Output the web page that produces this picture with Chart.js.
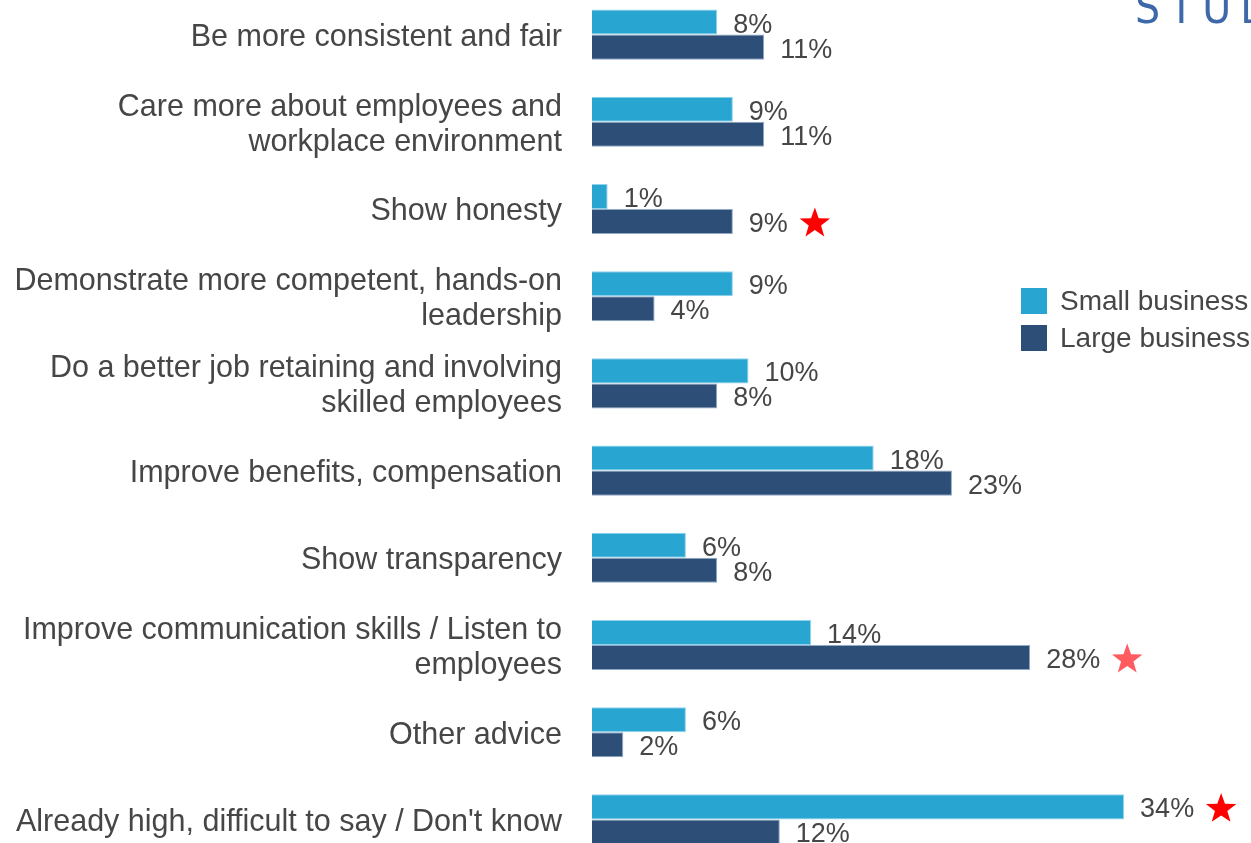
<!DOCTYPE html>
<html>
<head>
<meta charset="utf-8">
<script src="https://cdn.jsdelivr.net/npm/chart.js@4"></script>
<style>
  html, body { margin: 0; padding: 0; background: #ffffff; overflow: hidden; }
  body { width: 1251px; height: 843px; position: relative; }
  #wrap { position: absolute; left: 0; top: -9px; width: 1251px; height: 872px; }
</style>
</head>
<body>
<div id="wrap"><canvas id="chart"></canvas></div>
<script>
// Advice for leadership, share of respondents (%)
const categories = [
  ['Be more consistent and fair'],
  ['Care more about employees and', 'workplace environment'],
  ['Show honesty'],
  ['Demonstrate more competent, hands-on', 'leadership'],
  ['Do a better job retaining and involving', 'skilled employees'],
  ['Improve benefits, compensation'],
  ['Show transparency'],
  ['Improve communication skills / Listen to', 'employees'],
  ['Other advice'],
  ["Already high, difficult to say / Don't know"]
];
const seriesNames = ['Small business', 'Large business'];
const smallBusiness = [8, 9, 1, 9, 10, 18, 6, 14, 6, 34];
const largeBusiness = [11, 11, 9, 4, 8, 23, 8, 28, 2, 12];
// significance markers: 'strong' or 'weak' difference
const smallFlags = [null, null, null, null, null, null, null, null, null, 'strong'];
const largeFlags = [null, null, 'strong', null, null, null, null, 'weak', null, null];
const headerText = 'STUDY';

const FONT = "'Liberation Sans', Arial, sans-serif";
const TEXT = '#464646';
const COLORS = ['#29a5d2', '#2c4e77'];
const EDGES = ['#8fd3ec', '#8fa9c6'];
const STAR = { strong: '#ff0000', weak: '#ff5c60' };
const WRAP_TOP = 9;

function drawStar(ctx, cx, cy, rOut, rIn, color) {
  ctx.save();
  ctx.beginPath();
  for (let i = 0; i < 10; i++) {
    const r = i % 2 === 0 ? rOut : rIn;
    const a = -Math.PI / 2 + i * Math.PI / 5;
    const px = cx + r * Math.cos(a), py = cy + r * Math.sin(a);
    if (i === 0) ctx.moveTo(px, py); else ctx.lineTo(px, py);
  }
  ctx.closePath();
  ctx.fillStyle = color;
  ctx.fill();
  ctx.restore();
}

const valueLabels = {
  id: 'valueLabels',
  afterDatasetsDraw(chart) {
    const ctx = chart.ctx;
    const flags = [smallFlags, largeFlags];
    ctx.save();
    ctx.font = '27px ' + FONT;
    ctx.fillStyle = TEXT;
    ctx.textAlign = 'left';
    ctx.textBaseline = 'middle';
    chart.data.datasets.forEach((ds, di) => {
      const meta = chart.getDatasetMeta(di);
      meta.data.forEach((bar, i) => {
        const txt = ds.data[i] + '%';
        const tx = bar.x + 16;
        ctx.fillStyle = TEXT;
        ctx.fillText(txt, tx, bar.y + 3);
        const f = flags[di][i];
        if (f) {
          const w = ctx.measureText(txt).width;
          drawStar(ctx, tx + w + 27, bar.y + 2, 16, 6.5, STAR[f]);
        }
      });
    });
    ctx.restore();
  }
};

const sideLegend = {
  id: 'sideLegend',
  afterDraw(chart) {
    const ctx = chart.ctx;
    ctx.save();
    ctx.font = '28px ' + FONT;
    ctx.textAlign = 'left';
    ctx.textBaseline = 'middle';
    chart.data.datasets.forEach((ds, di) => {
      const y = 288 + di * 37 + WRAP_TOP;
      ctx.fillStyle = ds.backgroundColor;
      ctx.fillRect(1021, y, 26, 26);
      ctx.fillStyle = TEXT;
      ctx.fillText(ds.label, 1060, y + 14);
    });
    // header word, partly running off the top edge
    ctx.font = "44px 'Liberation Sans Narrow', 'DejaVu Sans Condensed', sans-serif";
    ctx.fillStyle = '#3d69a8';
    ctx.textBaseline = 'alphabetic';
    ctx.letterSpacing = '9px';
    ctx.fillText(headerText, 1135, 23 + WRAP_TOP);
    ctx.restore();
  }
};

new Chart(document.getElementById('chart'), {
  type: 'bar',
  data: {
    labels: categories,
    datasets: [
      { label: seriesNames[0], data: smallBusiness, backgroundColor: COLORS[0], borderColor: EDGES[0], borderWidth: 1 },
      { label: seriesNames[1], data: largeBusiness, backgroundColor: COLORS[1], borderColor: EDGES[1], borderWidth: 1 }
    ]
  },
  options: {
    indexAxis: 'y',
    responsive: true,
    maintainAspectRatio: false,
    animation: false,
    categoryPercentage: 0.574,
    barPercentage: 1.0,
    layout: { padding: { left: 0, right: 33, top: 0, bottom: 0 } },
    plugins: { legend: { display: false }, tooltip: { enabled: false } },
    scales: {
      x: { display: false, min: 0, max: 40 },
      y: {
        afterFit(scale) {
          scale.width = 592;
          scale.paddingTop = 0;
          scale.paddingBottom = 0;
        },
        grid: { display: false, drawTicks: false },
        border: { display: false },
        ticks: { color: TEXT, font: { family: FONT, size: 30.5, lineHeight: 1.15 }, padding: 30, labelOffset: 3 }
      }
    }
  },
  plugins: [valueLabels, sideLegend]
});
</script>
</body>
</html>
